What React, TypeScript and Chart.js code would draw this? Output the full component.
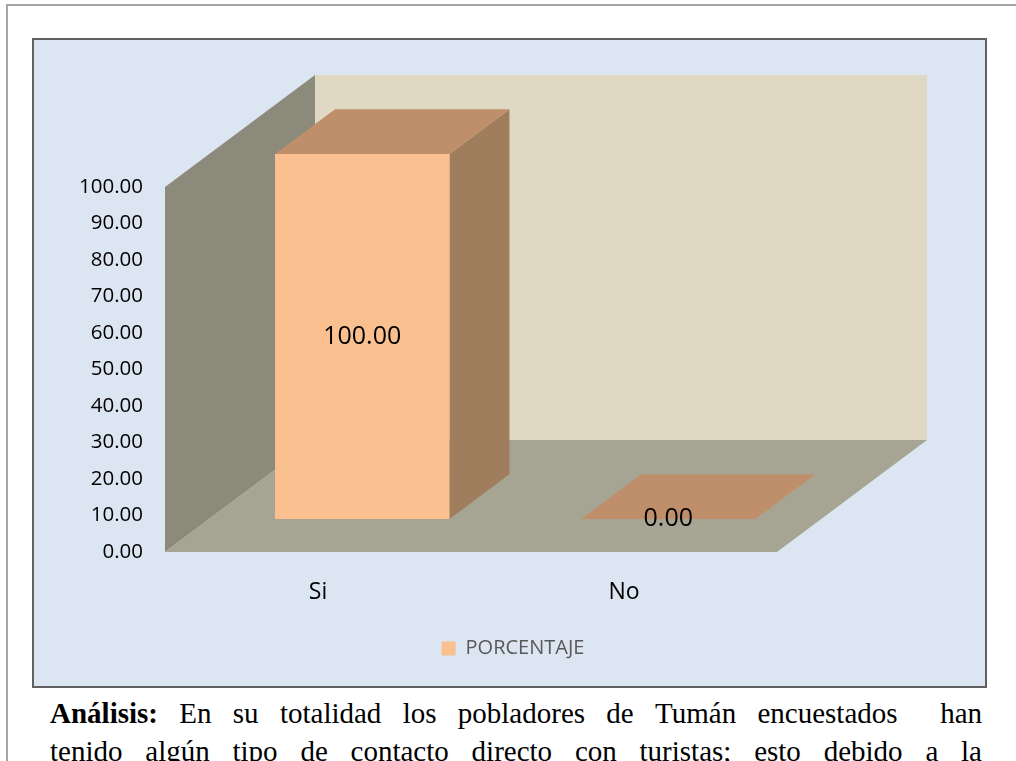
import React, { useEffect, useRef } from 'react';
import { Chart, registerables } from 'chart.js';

Chart.register(...registerables);

// ---- data ----
const categories = ['Si', 'No'];
const porcentaje = [100, 0];
const seriesName = 'PORCENTAJE';
const yMin = 0;
const yMax = 100;
const yStep = 10;
const analysisLine1 = ['Análisis:', 'En', 'su', 'totalidad', 'los', 'pobladores', 'de', 'Tumán', 'encuestados', 'han'];
const analysisLine2 = ['tenido', 'algún', 'tipo', 'de', 'contacto', 'directo', 'con', 'turistas;', 'esto', 'debido', 'a', 'la'];

// ---- styling ----
const line1Gaps = [1, 1, 1, 1, 1, 1, 1, 1, 2];
const line2Gaps = [1, 1, 1, 1, 1, 1, 1, 1, 1, 1, 1];
const FONT = "'Open Sans', 'Noto Sans', sans-serif";
const DEPTH_DX = 150;
const DEPTH_DY = -112;
const BAR_FRONT = 0.295;
const BAR_BACK = 0.695;
const COLORS = {
  backWall: '#DFD9C4',
  leftWall: '#8C8B7B',
  floor: '#A6A594',
  barFront: '#FAC090',
  barTop: '#BF8F6B',
  barSide: '#A07D5C',
};

function poly(ctx: CanvasRenderingContext2D, pts: number[][], fill: string) {
  ctx.beginPath();
  ctx.moveTo(pts[0][0], pts[0][1]);
  for (let i = 1; i < pts.length; i++) ctx.lineTo(pts[i][0], pts[i][1]);
  ctx.closePath();
  ctx.fillStyle = fill;
  ctx.fill();
}

const threeD = {
  id: 'threeD',
  beforeDatasetsDraw(chart: any) {
    const { ctx, chartArea } = chart;
    const { left: L, right: R, top: T, bottom: B } = chartArea;
    const dx = DEPTH_DX;
    const dy = DEPTH_DY;
    ctx.save();
    poly(ctx, [[L + dx, T + dy], [R + dx, T + dy], [R + dx, B + dy], [L + dx, B + dy]], COLORS.backWall);
    poly(ctx, [[L, T], [L + dx, T + dy], [L + dx, B + dy], [L, B]], COLORS.leftWall);
    poly(ctx, [[L, B], [R, B], [R + dx, B + dy], [L + dx, B + dy]], COLORS.floor);
    const meta = chart.getDatasetMeta(0);
    meta.data.forEach((bar: any) => {
      const { x, y, base, width } = bar.getProps(['x', 'y', 'base', 'width'], true);
      const fx = dx * BAR_FRONT;
      const fy = dy * BAR_FRONT;
      const bdx = dx * (BAR_BACK - BAR_FRONT);
      const bdy = dy * (BAR_BACK - BAR_FRONT);
      const x0 = x - width / 2 + fx;
      const x1 = x + width / 2 + fx;
      const yt = y + fy;
      const yb = base + fy;
      poly(ctx, [[x1, yt], [x1 + bdx, yt + bdy], [x1 + bdx, yb + bdy], [x1, yb]], COLORS.barSide);
      poly(ctx, [[x0, yt], [x1, yt], [x1 + bdx, yt + bdy], [x0 + bdx, yt + bdy]], COLORS.barTop);
      poly(ctx, [[x0, yt], [x1, yt], [x1, yb], [x0, yb]], COLORS.barFront);
    });
    ctx.restore();
    return false;
  },
  afterDraw(chart: any) {
    const { ctx } = chart;
    const meta = chart.getDatasetMeta(0);
    const data = chart.data.datasets[0].data;
    ctx.save();
    ctx.font = `25px ${FONT}`;
    ctx.fillStyle = '#000000';
    ctx.textAlign = 'center';
    ctx.textBaseline = 'middle';
    meta.data.forEach((bar: any, i: number) => {
      const { x, y, base } = bar.getProps(['x', 'y', 'base'], true);
      const cx = x + DEPTH_DX * BAR_FRONT;
      const cy = (y + base) / 2 + DEPTH_DY * BAR_FRONT;
      ctx.fillText(Number(data[i]).toFixed(2), cx, cy);
    });
    ctx.restore();
  },
};

function ChartBox() {
  const ref = useRef<HTMLCanvasElement | null>(null);
  useEffect(() => {
    if (!ref.current) return;
    const chart = new Chart(ref.current, {
      type: 'bar',
      data: {
        labels: categories,
        datasets: [
          {
            label: seriesName,
            data: porcentaje,
            backgroundColor: COLORS.barFront,
            borderWidth: 0,
            categoryPercentage: 1,
            barPercentage: 0.57,
          },
        ],
      },
      options: {
        responsive: false,
        animation: false,
        devicePixelRatio: 1,
        layout: { padding: { left: 25, right: 18, top: 147, bottom: 17.5 } },
        plugins: {
          legend: {
            position: 'bottom',
            labels: {
              boxWidth: 14,
              boxHeight: 14,
              padding: 10,
              color: '#595959',
              font: { family: FONT, size: 20 },
            },
          },
          tooltip: { enabled: false },
        },
        scales: {
          x: {
            grid: { display: false },
            border: { display: false },
            ticks: { color: '#000000', font: { family: FONT, size: 23 }, padding: 19 },
            afterFit: (s: any) => {
              s.height = 76.5;
            },
          },
          y: {
            min: yMin,
            max: yMax,
            grid: { display: false, drawTicks: false },
            border: { display: false },
            ticks: {
              stepSize: yStep,
              color: '#000000',
              font: { family: FONT, size: 20.5 },
              padding: 22,
              callback: (v: any) => Number(v).toFixed(2),
            },
            afterFit: (s: any) => {
              s.width = 106;
            },
          },
          yR: {
            type: 'linear',
            position: 'right',
            display: true,
            grid: { display: false, drawTicks: false },
            border: { display: false },
            ticks: { display: false },
            afterFit: (s: any) => {
              s.width = 190;
            },
          },
        },
      } as any,
      plugins: [threeD as any],
    });
    return () => chart.destroy();
  }, []);
  return (
    <canvas
      ref={ref}
      width={951}
      height={646}
      style={{ position: 'absolute', left: 34, top: 40, width: 951, height: 646 }}
    />
  );
}

function JustifiedLine({ words, gaps, top, boldFirst }: { words: string[]; gaps: number[]; top: number; boldFirst?: boolean }) {
  const items: React.ReactNode[] = [];
  words.forEach((w, i) => {
    items.push(
      <span key={'w' + i} style={{ flex: 'none', fontWeight: boldFirst && i === 0 ? 'bold' : 'normal' }}>
        {w}
      </span>
    );
    if (i < words.length - 1) items.push(<span key={'g' + i} style={{ flexGrow: gaps[i], flexShrink: 0, flexBasis: 0 }} />);
  });
  return (
    <div
      style={{
        position: 'absolute',
        left: 50,
        top,
        width: 932,
        display: 'flex',
        fontFamily: "'Liberation Serif', 'Times New Roman', serif",
        fontSize: 29,
        lineHeight: '38px',
        color: '#000',
        whiteSpace: 'nowrap',
      }}
    >
      {items}
    </div>
  );
}

export default function App() {
  return (
    <div
      style={{
        position: 'fixed',
        left: 0,
        top: 0,
        width: 1016,
        height: 761,
        overflow: 'hidden',
        background: '#ffffff',
      }}
    >
      <div
        style={{
          position: 'absolute',
          left: 6,
          top: 4,
          width: 1100,
          height: 900,
          borderTop: '2px solid #a6a6a6',
          borderLeft: '2px solid #a6a6a6',
        }}
      />
      <div
        style={{
          position: 'absolute',
          left: 32,
          top: 38,
          width: 951,
          height: 646,
          border: '2px solid #616161',
          background: '#DCE6F2',
        }}
      />
      <ChartBox />
      <JustifiedLine words={analysisLine1} gaps={line1Gaps} top={694.2} boldFirst />
      <JustifiedLine words={analysisLine2} gaps={line2Gaps} top={732.2} />
    </div>
  );
}
